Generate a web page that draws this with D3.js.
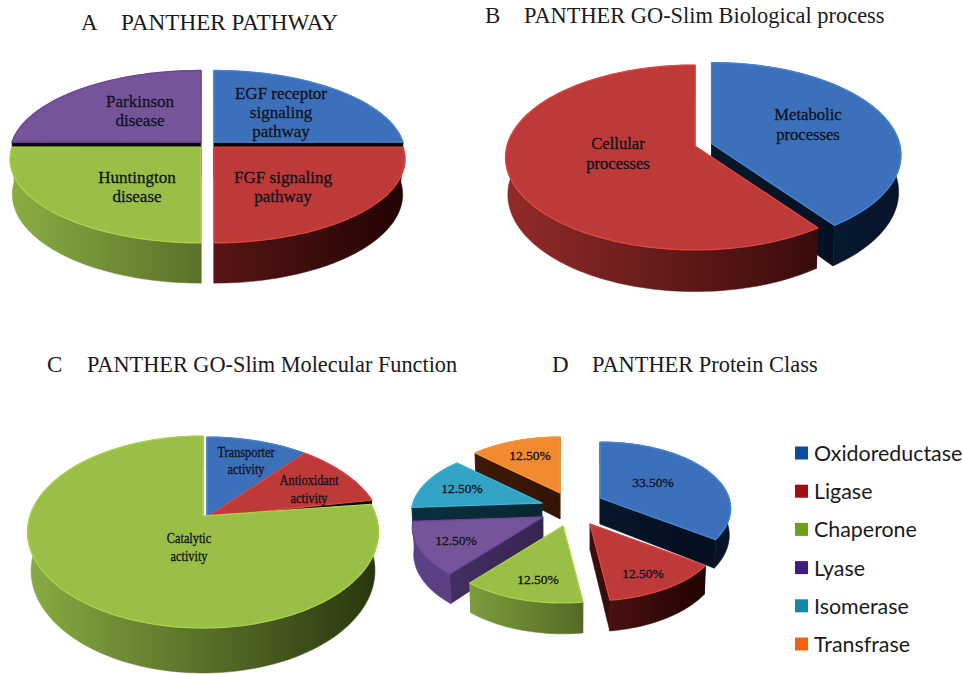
<!DOCTYPE html>
<html>
<head>
<meta charset="utf-8">
<script src="https://cdn.jsdelivr.net/npm/d3@7/dist/d3.min.js"></script>
<style>
html,body{margin:0;padding:0;background:#fff}
svg{display:block}
</style>
</head>
<body>
<svg id="chart" width="963" height="675"></svg>
<script>
// Panel data
const pathwayNames = ["EGF receptor signaling pathway", "FGF signaling pathway", "Huntington disease", "Parkinson disease"];
const pathwayValues = [25, 25, 25, 25];
const processNames = ["Metabolic processes", "Cellular processes"];
const processValues = [40, 60];
const functionNames = ["Transporter activity", "Antioxidant activity", "Catalytic activity"];
const functionValues = [11, 11, 78];
const classNames = ["Oxidoreductase", "Ligase", "Chaperone", "Lyase", "Isomerase", "Transfrase"];
const classValues = [33.5, 12.5, 12.5, 12.5, 12.5, 12.5];

// Colour ramps: top face, rim, wall at left, wall at right
const palette = {
  blue:   {top:"#3d70ba", rim:"#4786d6", wl:"#10304f", wr:"#06142a"},
  red:    {top:"#bd3a38", rim:"#e04642", wl:"#8f2a28", wr:"#240303"},
  green:  {top:"#9abf46", rim:"#acd24a", wl:"#88aa42", wr:"#28360e"},
  purple: {top:"#75549a", rim:"#6c4698", wl:"#5c4084", wr:"#2c1a48"},
  cyan:   {top:"#32a3c4", rim:"#3bb8d8", wl:"#0f3e50", wr:"#06222e"},
  orange: {top:"#f28a30", rim:"#fb9534", wl:"#5a2608", wr:"#2a0c04"}
};

const svg = d3.select("#chart");
const defs = svg.append("defs");
const lineGen = d3.line();
const pie = d3.pie().sort(null).value(d => d);

const panels = [
  {
    id:"a", values:pathwayValues, colors:["blue","red","green","purple"],
    cx:207.5, cy:145, rx:189, ry:82, k:0.143, depth:34.5, taper:0.012, radialShade:0.9,
    offsets:[[6.5,-2.8],[6.5,2.2],[-6.5,2.2],[-6.5,-2.8]], trims:{},
    font:17, squeeze:1,
    labels:[
      {lines:["EGF receptor","signaling","pathway"], x:281, y:[99,118,137]},
      {lines:["FGF signaling","pathway"], x:283, y:[183,202]},
      {lines:["Huntington","disease"], x:137, y:[183,202]},
      {lines:["Parkinson","disease"], x:140, y:[107,126]}
    ]
  },
  {
    id:"b", values:processValues, colors:["blue","red"],
    cx:703, cy:145, rx:188, ry:91, k:0.124, depth:36.5, taper:0.012, radialShade:0.3,
    offsets:[[8.5,-1.5],[-8,1]], trims:{},
    font:16.6, squeeze:1,
    labels:[
      {lines:["Metabolic","processes"], x:808, y:[120,140]},
      {lines:["Cellular","processes"], x:618, y:[149,169]}
    ]
  },
  {
    id:"c", values:functionValues, colors:["blue","red","green"],
    cx:203, cy:516, rx:173, ry:93.3, k:0.167, depth:37.5, taper:0.02, radialShade:0.85,
    offsets:[[4,1],[4,1],[0,0]], trims:{2:[0.06,0]},
    font:14.5, squeeze:0.85,
    labels:[
      {lines:["Transporter","activity"], x:246, y:[457,474]},
      {lines:["Antioxidant","activity"], x:309, y:[485,503]},
      {lines:["Catalytic","activity"], x:189, y:[543,561]}
    ]
  },
  {
    id:"d", values:classValues, colors:["blue","red","green","purple","cyan","orange"],
    cx:570, cy:510, rx:129, ry:64.8, k:0.158, depth:26, taper:0.01, radialShade:0.25,
    offsets:[[30,-12],[20,14],[-7,16],[-27,7],[-28,-7],[-10,-17]], trims:{},
    font:13.5, squeeze:1,
    labels:[
      {lines:[classValues[0].toFixed(2)+"%"], x:653, y:[487]},
      {lines:[classValues[1].toFixed(2)+"%"], x:643, y:[578]},
      {lines:[classValues[2].toFixed(2)+"%"], x:538, y:[584]},
      {lines:[classValues[3].toFixed(2)+"%"], x:456, y:[545]},
      {lines:[classValues[4].toFixed(2)+"%"], x:462, y:[493]},
      {lines:[classValues[5].toFixed(2)+"%"], x:530, y:[460]}
    ]
  }
];

// Tilted-disc projection: a point on the unit disc, lifted by h (0 top, 1 floor)
function projector(p, off){
  return (theta, r, h) => {
    const u = r * Math.sin(theta), v = -r * Math.cos(theta);
    const w = 1 / (1 - p.k * v);
    return [
      p.cx + off[0] + p.rx * u * w * (1 - h * p.taper),
      p.cy + off[1] + p.ry * v * w + h * p.depth * w
    ];
  };
}

function drawPanel(p){
  const arcs = pie(p.values);
  const g = svg.append("g").attr("class", "panel-" + p.id);

  const pieces = arcs.map((a, i) => {
    const proj = projector(p, p.offsets[i]);
    const trim = p.trims[i] || [0, 0];
    const a0 = a.startAngle + trim[0], a1 = a.endAngle - trim[1];
    const steps = Math.max(8, Math.ceil((a1 - a0) * 40));
    const angles = d3.range(steps + 1).map(s => a0 + (a1 - a0) * s / steps);
    const topArc = angles.map(t => proj(t, 1, 0));
    const floorArc = angles.map(t => proj(t, 1, 1));
    const hub = proj(0, 0, 0), hubFloor = proj(0, 0, 1);
    const rim = d3.mean(topArc, q => q[1]);
    return {i, color:palette[p.colors[i]], colorName:p.colors[i], topArc, floorArc, hub, hubFloor,
            rearFacing:rim < hub[1], order:(rim + hub[1]) / 2};
  });

  // Wall shading runs across the whole width of the disc
  Array.from(new Set(p.colors)).forEach(name => {
    const gr = defs.append("linearGradient")
      .attr("id", `wall-${p.id}-${name}`)
      .attr("gradientUnits", "userSpaceOnUse")
      .attr("x1", p.cx - p.rx).attr("x2", p.cx + p.rx)
      .attr("y1", 0).attr("y2", 0);
    gr.append("stop").attr("offset", 0).attr("stop-color", palette[name].wl);
    gr.append("stop").attr("offset", 1).attr("stop-color", palette[name].wr);
  });

  // Paint from the back of the disc to the front
  pieces.sort((a, b) => d3.ascending(a.order, b.order)).forEach(s => {
    const group = g.append("g");
    const wall = `url(#wall-${p.id}-${s.colorName})`;
    const n = s.topArc.length - 1;
    const radial = [
      [s.hub, s.topArc[0], s.floorArc[0], s.hubFloor],
      [s.hub, s.topArc[n], s.floorArc[n], s.hubFloor]
    ];
    const outer = s.topArc.concat(s.floorArc.slice().reverse());
    const drawCuts = () => radial.forEach(poly => {
      group.append("path")
        .attr("d", lineGen(poly) + "Z")
        .attr("fill", wall)
        .attr("stroke", wall)
        .attr("stroke-width", 0.5);
      group.append("path")
        .attr("d", lineGen(poly) + "Z")
        .attr("fill", "#000")
        .attr("opacity", p.radialShade);
    });
    const drawCurve = () => group.append("path")
      .attr("d", lineGen(outer) + "Z")
      .attr("fill", wall)
      .attr("stroke", wall)
      .attr("stroke-width", 0.5);
    // Rear slices show their cut faces over the curved wall; front slices the reverse
    if (s.rearFacing) { drawCurve(); drawCuts(); } else { drawCuts(); drawCurve(); }
    group.append("path")
      .attr("d", lineGen([s.hub].concat(s.topArc)) + "Z")
      .attr("fill", s.color.top)
      .attr("stroke", s.color.rim)
      .attr("stroke-width", 1.3)
      .attr("stroke-linejoin", "round");
  });

  // Slice captions
  p.labels.forEach(lab => {
    lab.lines.forEach((line, j) => {
      g.append("text")
        .attr("transform", `translate(${lab.x},${lab.y[j]}) scale(${p.squeeze},1)`)
        .attr("text-anchor", "middle")
        .attr("font-family", "'Liberation Serif', serif")
        .attr("font-size", p.font)
        .attr("fill", "#10141f")
        .attr("stroke", "#10141f")
        .attr("stroke-width", 0.3)
        .text(line);
    });
  });
}

panels.forEach(drawPanel);

// Panel headings
const headings = [
  {letter:"A", title:"PANTHER PATHWAY", lx:81, tx:121, y:30, size:23.2},
  {letter:"B", title:"PANTHER GO-Slim Biological process", lx:485, tx:524, y:23, size:22.4},
  {letter:"C", title:"PANTHER GO-Slim Molecular Function", lx:47, tx:87, y:372, size:22.3},
  {letter:"D", title:"PANTHER Protein Class", lx:552, tx:592, y:372, size:22.4}
];
const headingGroup = svg.append("g").attr("font-family", "'Liberation Serif', serif").attr("fill", "#1a1a1a");
headingGroup.selectAll("text.letter").data(headings).join("text")
  .attr("class", "letter").attr("x", d => d.lx).attr("y", d => d.y).attr("font-size", 23).text(d => d.letter);
headingGroup.selectAll("text.title").data(headings).join("text")
  .attr("class", "title").attr("x", d => d.tx).attr("y", d => d.y).attr("font-size", d => d.size).text(d => d.title);

// Legend for the protein class panel
const legendColors = ["#0f4a9b", "#a00d12", "#6f9e1a", "#3f1d80", "#1787a8", "#f0640f"];
const legendY = d3.scalePoint().domain(classNames).range([453, 644]);
const legend = svg.append("g").selectAll("g").data(classNames).join("g")
  .attr("transform", d => `translate(795,${legendY(d)})`);
legend.append("rect").attr("x", 0).attr("y", -6.5).attr("width", 13).attr("height", 13)
  .attr("fill", (d, i) => legendColors[i]);
legend.append("text").attr("x", 19).attr("y", 8)
  .attr("font-family", "Lato, sans-serif").attr("font-size", 21.4).attr("fill", "#1a1a1a").text(d => d);
</script>
</body>
</html>
